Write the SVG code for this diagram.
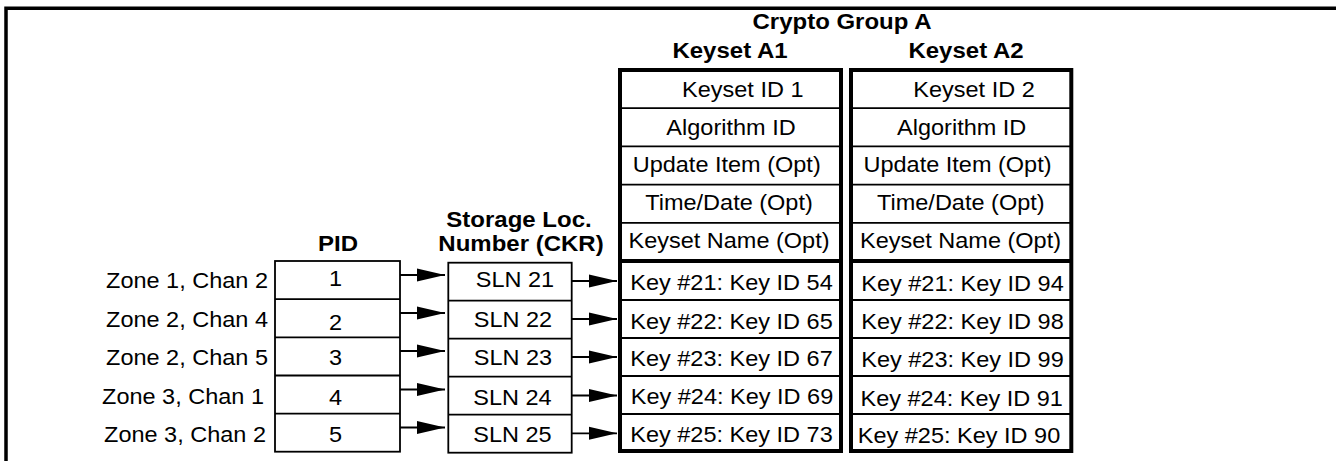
<svg xmlns="http://www.w3.org/2000/svg" width="1336" height="461" viewBox="0 0 1336 461">
<style>
  text { font-family: "Liberation Sans", Arial, Helvetica, sans-serif; fill: #000; }
  .t { font-size: 23.5px; }
  .b { font-size: 24px; font-weight: bold; }
  .m { text-anchor: middle; }
  .e { text-anchor: end; }
  .thin { fill: none; stroke: #000; stroke-width: 1.8; }
  .thick { fill: none; stroke: #000; stroke-width: 4; }
  .conn { stroke: #000; stroke-width: 1.8; fill: none; }
</style>
<defs>
  <marker id="ah" markerUnits="userSpaceOnUse" markerWidth="29" markerHeight="14" refX="28" refY="7" orient="auto">
    <path d="M0,0.5 L28,7 L0,13.5 z" fill="#000"/>
  </marker>
</defs>
<rect width="1336" height="461" fill="#fff"/>
<path d="M6,461 V8.3 H1336" fill="none" stroke="#000" stroke-width="3.5"/>

<g id="headers">
  <text class="b m" transform="translate(842 29) scale(1 0.9)">Crypto Group A</text>
  <text class="b m" transform="translate(730 58) scale(1 0.9)">Keyset A1</text>
  <text class="b m" transform="translate(966 58) scale(1 0.9)">Keyset A2</text>
  <text class="b m" transform="translate(519 227) scale(1 0.9)">Storage Loc.</text>
  <text class="b m" transform="translate(521 251) scale(1 0.9)">Number (CKR)</text>
  <text class="b m" transform="translate(338 251) scale(1 0.9)">PID</text>
</g>

<g id="zone-labels">
  <text id="zone1" class="t e" transform="translate(268 288) scale(1 0.93)">Zone 1, Chan 2</text>
  <text id="zone2" class="t e" transform="translate(268 327) scale(1 0.93)">Zone 2, Chan 4</text>
  <text id="zone3" class="t e" transform="translate(268 365) scale(1 0.93)">Zone 2, Chan 5</text>
  <text id="zone4" class="t e" transform="translate(264 404) scale(1 0.93)">Zone 3, Chan 1</text>
  <text id="zone5" class="t e" transform="translate(266 442) scale(1 0.93)">Zone 3, Chan 2</text>
</g>

<g id="pid-table">
  <rect class="thin" x="275" y="261" width="125" height="190.7"/>
  <path class="thin" d="M275,299.2 H400 M275,337.3 H400 M275,375.5 H400 M275,413.6 H400"/>
  <text class="t m" transform="translate(335.5 286) scale(1 0.93)">1</text>
  <text class="t m" transform="translate(335.5 330) scale(1 0.93)">2</text>
  <text class="t m" transform="translate(335.5 365) scale(1 0.93)">3</text>
  <text class="t m" transform="translate(335.5 405) scale(1 0.93)">4</text>
  <text class="t m" transform="translate(335.5 442) scale(1 0.93)">5</text>
</g>

<g id="sln-table">
  <rect class="thin" x="448.3" y="262.7" width="123.4" height="190"/>
  <path class="thin" d="M448.3,300.7 H571.7 M448.3,338.7 H571.7 M448.3,376.7 H571.7 M448.3,414.7 H571.7"/>
  <text class="t m" transform="translate(515 287) scale(1 0.93)">SLN 21</text>
  <text class="t m" transform="translate(513 327) scale(1 0.93)">SLN 22</text>
  <text class="t m" transform="translate(513 365) scale(1 0.93)">SLN 23</text>
  <text class="t m" transform="translate(512.5 405) scale(1 0.93)">SLN 24</text>
  <text class="t m" transform="translate(512.5 442) scale(1 0.93)">SLN 25</text>
</g>

<g id="keyset-a1">
  <rect class="thick" x="620" y="70" width="221" height="381"/>
  <path class="thin" d="M620,108.2 H841 M620,146.4 H841 M620,184.6 H841 M620,222.8 H841 M620,300 H841 M620,338 H841 M620,376 H841 M620,414 H841"/>
  <path class="thick" d="M620,261 H841"/>
  <text class="t m" transform="translate(742.8 96.7) scale(1 0.93)">Keyset ID 1</text>
  <text class="t m" transform="translate(731 135) scale(1 0.93)">Algorithm ID</text>
  <text class="t m" transform="translate(726.7 172) scale(1 0.93)">Update Item (Opt)</text>
  <text class="t m" transform="translate(729 210) scale(1 0.93)">Time/Date (Opt)</text>
  <text class="t m" transform="translate(729 247.5) scale(1 0.93)">Keyset Name (Opt)</text>
  <text class="t m" transform="translate(731.5 290) scale(1 0.93)">Key #21: Key ID 54</text>
  <text class="t m" transform="translate(731.5 329) scale(1 0.93)">Key #22: Key ID 65</text>
  <text class="t m" transform="translate(731.5 365.5) scale(1 0.93)">Key #23: Key ID 67</text>
  <text class="t m" transform="translate(732 403.5) scale(1 0.93)">Key #24: Key ID 69</text>
  <text class="t m" transform="translate(731.5 442) scale(1 0.93)">Key #25: Key ID 73</text>
</g>

<g id="keyset-a2">
  <rect class="thick" x="851" y="70" width="220.3" height="381"/>
  <path class="thin" d="M851,108.2 H1071.3 M851,146.4 H1071.3 M851,184.6 H1071.3 M851,222.8 H1071.3 M851,300 H1071.3 M851,338 H1071.3 M851,376 H1071.3 M851,414 H1071.3"/>
  <path class="thick" d="M851,261 H1071.3"/>
  <text class="t m" transform="translate(974 96.7) scale(1 0.93)">Keyset ID 2</text>
  <text class="t m" transform="translate(961.7 135) scale(1 0.93)">Algorithm ID</text>
  <text class="t m" transform="translate(957.5 172) scale(1 0.93)">Update Item (Opt)</text>
  <text class="t m" transform="translate(960.8 210) scale(1 0.93)">Time/Date (Opt)</text>
  <text class="t m" transform="translate(960.5 247.5) scale(1 0.93)">Keyset Name (Opt)</text>
  <text class="t m" transform="translate(962.5 290.7) scale(1 0.93)">Key #21: Key ID 94</text>
  <text class="t m" transform="translate(962.5 329.3) scale(1 0.93)">Key #22: Key ID 98</text>
  <text class="t m" transform="translate(962.5 366.7) scale(1 0.93)">Key #23: Key ID 99</text>
  <text class="t m" transform="translate(961.7 405.7) scale(1 0.93)">Key #24: Key ID 91</text>
  <text class="t m" transform="translate(959 443.3) scale(1 0.93)">Key #25: Key ID 90</text>
</g>

<g id="connectors">
  <line class="conn" x1="400" y1="275" x2="445" y2="275" marker-end="url(#ah)"/>
  <line class="conn" x1="400" y1="313" x2="445" y2="313" marker-end="url(#ah)"/>
  <line class="conn" x1="400" y1="351" x2="445" y2="351" marker-end="url(#ah)"/>
  <line class="conn" x1="400" y1="389.5" x2="445" y2="389.5" marker-end="url(#ah)"/>
  <line class="conn" x1="400" y1="427.5" x2="445" y2="427.5" marker-end="url(#ah)"/>
  <line class="conn" x1="571.7" y1="281" x2="617" y2="281" marker-end="url(#ah)"/>
  <line class="conn" x1="571.7" y1="319" x2="617" y2="319" marker-end="url(#ah)"/>
  <line class="conn" x1="571.7" y1="357" x2="617" y2="357" marker-end="url(#ah)"/>
  <line class="conn" x1="571.7" y1="395.5" x2="617" y2="395.5" marker-end="url(#ah)"/>
  <line class="conn" x1="571.7" y1="433.3" x2="617" y2="433.3" marker-end="url(#ah)"/>
</g>
</svg>
